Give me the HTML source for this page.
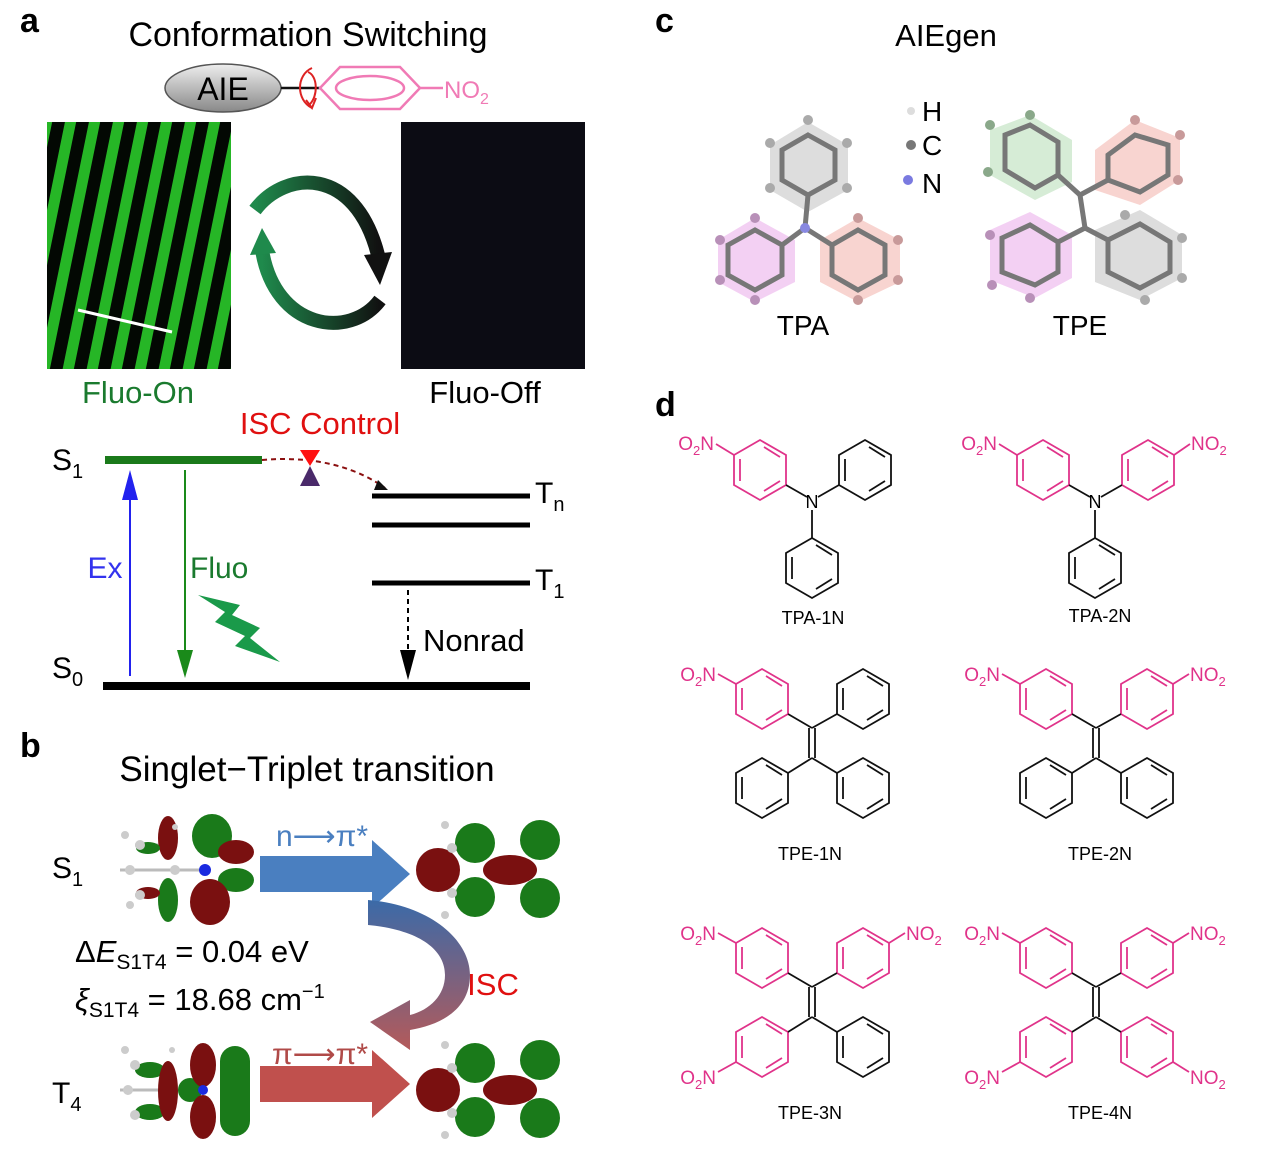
<!DOCTYPE html>
<html><head><meta charset="utf-8"><style>
html,body{margin:0;padding:0;background:#fff}
svg{display:block}
text{font-family:"Liberation Sans",sans-serif}
</style></head><body>
<svg width="1264" height="1164" viewBox="0 0 1264 1164" xmlns="http://www.w3.org/2000/svg">
<defs>
<g id="rp" fill="none" stroke="#e0338a" stroke-width="1.8">
<polygon points="0,-30 26,-15 26,15 0,30 -26,15 -26,-15"/>
<line x1="4" y1="-23" x2="20" y2="-13"/><line x1="20" y1="11" x2="4" y2="21"/><line x1="-20" y1="-11" x2="-20" y2="11"/>
</g>
<g id="rb" fill="none" stroke="#111" stroke-width="1.8">
<polygon points="0,-30 26,-15 26,15 0,30 -26,15 -26,-15"/>
<line x1="4" y1="-23" x2="20" y2="-13"/><line x1="20" y1="11" x2="4" y2="21"/><line x1="-20" y1="-11" x2="-20" y2="11"/>
</g>
<linearGradient id="aie" x1="0" y1="0" x2="0" y2="1"><stop offset="0" stop-color="#eee"/><stop offset="1" stop-color="#888"/></linearGradient>
<linearGradient id="g1" x1="0" y1="0" x2="1" y2="0"><stop offset="0" stop-color="#1f8a4c"/><stop offset="1" stop-color="#111"/></linearGradient>
<linearGradient id="g2" x1="1" y1="0" x2="0" y2="0"><stop offset="0" stop-color="#111"/><stop offset="1" stop-color="#1f8a4c"/></linearGradient>
<linearGradient id="isc" x1="0" y1="0" x2="0" y2="1"><stop offset="0" stop-color="#3b6aa8"/><stop offset="1" stop-color="#b45a5a"/></linearGradient>
<clipPath id="cp1"><rect x="47" y="122" width="184" height="247"/></clipPath>
</defs>

<!-- Panel a -->
<text x="20" y="32" font-size="34" font-weight="bold">a</text>
<text x="308" y="46" font-size="34" text-anchor="middle">Conformation Switching</text>
<ellipse cx="223" cy="88" rx="58" ry="24" fill="url(#aie)" stroke="#555" stroke-width="1.5"/>
<text x="223" y="100" font-size="32" text-anchor="middle">AIE</text>
<line x1="281" y1="88" x2="320" y2="88" stroke="#111" stroke-width="2.5"/>
<g fill="none" stroke="#f07ab5" stroke-width="2.5">
<polygon points="320,88 340,67 400,67 420,88 400,109 340,109"/>
<ellipse cx="370" cy="88" rx="34" ry="12"/>
<line x1="420" y1="88" x2="443" y2="88"/>
</g>
<text x="444" y="98" font-size="24" fill="#f07ab5">NO<tspan font-size="16" dy="6">2</tspan></text>
<path d="M312,68 C296,75 296,100 312,108" fill="none" stroke="#d22" stroke-width="2"/>
<path d="M308,72 C318,76 318,96 310,104" fill="none" stroke="#d22" stroke-width="2"/>
<path d="M306,100 L312,108 L316,98" fill="none" stroke="#d22" stroke-width="2"/>

<rect x="47" y="122" width="184" height="247" fill="#030803"/>
<g clip-path="url(#cp1)" stroke="#28c028" stroke-width="11" opacity="0.95">
<line x1="-30" y1="380" x2="25" y2="110"/><line x1="-6" y1="380" x2="49" y2="110"/>
<line x1="18" y1="380" x2="73" y2="110"/><line x1="42" y1="380" x2="97" y2="110"/>
<line x1="66" y1="380" x2="121" y2="110"/><line x1="90" y1="380" x2="145" y2="110"/>
<line x1="114" y1="380" x2="169" y2="110"/><line x1="138" y1="380" x2="193" y2="110"/>
<line x1="162" y1="380" x2="217" y2="110"/><line x1="186" y1="380" x2="241" y2="110"/>
<line x1="210" y1="380" x2="265" y2="110"/><line x1="234" y1="380" x2="289" y2="110"/>
</g>
<line x1="78" y1="310" x2="172" y2="332" stroke="#fff" stroke-width="3"/>
<rect x="401" y="122" width="184" height="247" fill="#0c0c14"/>

<path d="M255,210 C285,170 355,165 378,255" fill="none" stroke="url(#g1)" stroke-width="14"/>
<path d="M364,255 L380,285 L392,252 z" fill="#111"/>
<path d="M380,300 C350,340 275,330 262,250" fill="none" stroke="url(#g2)" stroke-width="14"/>
<path d="M250,255 L262,228 L276,253 z" fill="#1f8a4c"/>

<text x="138" y="403" font-size="31" fill="#1a7a2e" text-anchor="middle">Fluo-On</text>
<text x="485" y="403" font-size="31" text-anchor="middle">Fluo-Off</text>

<text x="52" y="470" font-size="30">S<tspan font-size="20" dy="8">1</tspan></text>
<line x1="105" y1="460" x2="262" y2="460" stroke="#1a7a1a" stroke-width="8"/>
<text x="320" y="434" font-size="31" fill="#e01010" text-anchor="middle">ISC Control</text>
<path d="M262,460 C320,455 360,470 385,488" fill="none" stroke="#8b1010" stroke-width="2" stroke-dasharray="5,4"/>
<path d="M378,480 L388,490 L374,490 z" fill="#111"/>
<path d="M300,450 L320,450 L310,466 z" fill="#ff1010"/>
<path d="M310,466 L300,486 L320,486 z" fill="#4a2a6a"/>
<line x1="372" y1="496" x2="530" y2="496" stroke="#000" stroke-width="5"/>
<line x1="372" y1="525" x2="530" y2="525" stroke="#000" stroke-width="5"/>
<line x1="372" y1="583" x2="530" y2="583" stroke="#000" stroke-width="5"/>
<text x="535" y="503" font-size="30">T<tspan font-size="20" dy="8">n</tspan></text>
<text x="535" y="590" font-size="30">T<tspan font-size="20" dy="8">1</tspan></text>
<line x1="103" y1="686" x2="530" y2="686" stroke="#000" stroke-width="8"/>
<text x="52" y="678" font-size="30">S<tspan font-size="20" dy="8">0</tspan></text>
<line x1="130" y1="676" x2="130" y2="490" stroke="#2222ee" stroke-width="2"/>
<path d="M122,500 L130,470 L138,500 z" fill="#2222ee"/>
<text x="105" y="578" font-size="30" fill="#3333ee" text-anchor="middle">Ex</text>
<line x1="185" y1="470" x2="185" y2="656" stroke="#1a8a1a" stroke-width="2"/>
<path d="M177,650 L185,678 L193,650 z" fill="#1a8a1a"/>
<text x="190" y="578" font-size="30" fill="#1a7a2e">Fluo</text>
<path d="M198,595 L240,605 L232,615 L260,628 L250,638 L280,662 L235,646 L245,636 L215,622 L225,612 z" fill="#1a9a4a"/>
<line x1="408" y1="590" x2="408" y2="656" stroke="#000" stroke-width="2" stroke-dasharray="5,4"/>
<path d="M400,650 L408,680 L416,650 z" fill="#000"/>
<text x="423" y="651" font-size="31">Nonrad</text>

<!-- Panel b -->
<text x="20" y="757" font-size="34" font-weight="bold">b</text>
<text x="307" y="781" font-size="35" text-anchor="middle">Singlet−Triplet transition</text>
<text x="52" y="878" font-size="30">S<tspan font-size="20" dy="8">1</tspan></text>
<text x="52" y="1103" font-size="30">T<tspan font-size="20" dy="8">4</tspan></text>
<g stroke="#bbb" stroke-width="3"><line x1="120" y1="870" x2="205" y2="870"/><line x1="135" y1="845" x2="175" y2="845"/><line x1="135" y1="895" x2="175" y2="895"/></g>
<ellipse cx="168" cy="838" rx="10" ry="22" fill="#7a1010"/>
<ellipse cx="168" cy="900" rx="10" ry="22" fill="#1a7a1a"/>
<ellipse cx="148" cy="848" rx="12" ry="6" fill="#1a7a1a"/>
<ellipse cx="148" cy="893" rx="12" ry="6" fill="#7a1010"/>
<ellipse cx="212" cy="836" rx="20" ry="22" fill="#1a7a1a"/>
<ellipse cx="236" cy="852" rx="18" ry="12" fill="#7a1010"/>
<ellipse cx="236" cy="880" rx="18" ry="12" fill="#1a7a1a"/>
<ellipse cx="210" cy="902" rx="20" ry="23" fill="#7a1010"/>
<circle cx="205" cy="870" r="6" fill="#1a2ae0"/>
<g fill="#ccc"><circle cx="130" cy="870" r="5"/><circle cx="140" cy="845" r="5"/><circle cx="140" cy="895" r="5"/><circle cx="175" cy="870" r="5"/><circle cx="125" cy="835" r="4"/><circle cx="130" cy="905" r="4"/><circle cx="175" cy="827" r="3"/></g>
<ellipse cx="438" cy="870" rx="22" ry="22" fill="#7a1010"/>
<ellipse cx="475" cy="843" rx="20" ry="20" fill="#1a7a1a"/>
<ellipse cx="475" cy="897" rx="20" ry="20" fill="#1a7a1a"/>
<ellipse cx="510" cy="870" rx="27" ry="15" fill="#7a1010"/>
<ellipse cx="540" cy="840" rx="20" ry="20" fill="#1a7a1a"/>
<ellipse cx="540" cy="898" rx="20" ry="20" fill="#1a7a1a"/>
<g fill="#ccc"><circle cx="452" cy="848" r="5"/><circle cx="452" cy="893" r="5"/><circle cx="445" cy="825" r="4"/><circle cx="445" cy="915" r="4"/></g>
<g stroke="#bbb" stroke-width="3"><line x1="120" y1="1090" x2="200" y2="1090"/></g>
<ellipse cx="150" cy="1070" rx="15" ry="8" fill="#1a7a1a"/>
<ellipse cx="150" cy="1112" rx="15" ry="8" fill="#1a7a1a"/>
<ellipse cx="168" cy="1091" rx="10" ry="30" fill="#7a1010"/>
<ellipse cx="190" cy="1090" rx="12" ry="12" fill="#1a7a1a"/>
<ellipse cx="203" cy="1065" rx="13" ry="22" fill="#7a1010"/>
<ellipse cx="203" cy="1117" rx="13" ry="22" fill="#7a1010"/>
<rect x="220" y="1046" width="30" height="90" rx="15" fill="#1a7a1a"/>
<circle cx="203" cy="1090" r="5" fill="#1a2ae0"/>
<g fill="#ccc"><circle cx="128" cy="1090" r="5"/><circle cx="135" cy="1065" r="5"/><circle cx="135" cy="1115" r="5"/><circle cx="125" cy="1050" r="4"/><circle cx="172" cy="1050" r="3"/></g>
<ellipse cx="438" cy="1090" rx="22" ry="22" fill="#7a1010"/>
<ellipse cx="475" cy="1063" rx="20" ry="20" fill="#1a7a1a"/>
<ellipse cx="475" cy="1117" rx="20" ry="20" fill="#1a7a1a"/>
<ellipse cx="510" cy="1090" rx="27" ry="15" fill="#7a1010"/>
<ellipse cx="540" cy="1060" rx="20" ry="20" fill="#1a7a1a"/>
<ellipse cx="540" cy="1118" rx="20" ry="20" fill="#1a7a1a"/>
<g fill="#ccc"><circle cx="452" cy="1068" r="5"/><circle cx="452" cy="1113" r="5"/><circle cx="445" cy="1045" r="4"/><circle cx="445" cy="1135" r="4"/></g>
<path d="M260,856 L372,856 L372,840 L410,874 L372,908 L372,892 L260,892 z" fill="#4a7fc0"/>
<text x="322" y="846" font-size="30" fill="#4a7fc0" text-anchor="middle">n⟶π*</text>
<path d="M260,1066 L372,1066 L372,1050 L410,1084 L372,1118 L372,1102 L260,1102 z" fill="#c0504d"/>
<text x="320" y="1064" font-size="30" fill="#b04a48" text-anchor="middle">π⟶π*</text>
<path d="M368,900 C430,905 470,940 470,975 C470,1010 440,1025 410,1030 L410,1050 L370,1022 L410,1000 L410,1015 C430,1010 445,995 445,975 C445,950 420,930 368,925 z" fill="url(#isc)"/>
<text x="493" y="995" font-size="31" fill="#e01010" text-anchor="middle">ISC</text>
<text x="75" y="962" font-size="31">Δ<tspan font-style="italic">E</tspan><tspan font-size="21" dy="7">S1T4</tspan><tspan dy="-7"> = 0.04 eV</tspan></text>
<text x="75" y="1010" font-size="31"><tspan font-style="italic">ξ</tspan><tspan font-size="21" dy="7">S1T4</tspan><tspan dy="-7"> = 18.68 cm</tspan><tspan font-size="20" dy="-12">−1</tspan></text>

<!-- Panel c -->
<text x="655" y="32" font-size="34" font-weight="bold">c</text>
<text x="946" y="46" font-size="31" text-anchor="middle">AIEgen</text>
<circle cx="911" cy="111" r="4" fill="#ddd"/><text x="922" y="121" font-size="28">H</text>
<circle cx="911" cy="145" r="5" fill="#777"/><text x="922" y="155" font-size="28">C</text>
<circle cx="908" cy="180" r="5" fill="#7a7ae0"/><text x="922" y="193" font-size="28">N</text>
<g>
<polygon points="808,122 848,145 848,190 808,212 770,190 770,145" fill="#ddd"/>
<polygon points="718,240 755,218 795,240 795,282 755,302 718,282" fill="#f3d0f3"/>
<polygon points="820,240 858,218 900,240 900,282 858,302 820,282" fill="#f8d4d0"/>
<g fill="none" stroke="#777" stroke-width="5">
<polygon points="808,135 835,150 835,180 808,195 782,180 782,150"/>
<polygon points="728,245 755,230 782,245 782,275 755,290 728,275"/>
<polygon points="832,245 858,230 885,245 885,275 858,290 832,275"/>
<line x1="808" y1="195" x2="805" y2="228"/><line x1="805" y1="228" x2="782" y2="245"/><line x1="805" y1="228" x2="832" y2="245"/>
</g>
<circle cx="805" cy="228" r="5" fill="#8888e0"/>
<g fill="#aaa"><circle cx="808" cy="120" r="5"/><circle cx="847" cy="143" r="5"/><circle cx="770" cy="143" r="5"/><circle cx="847" cy="188" r="5"/><circle cx="770" cy="188" r="5"/></g>
<g fill="#b890b8"><circle cx="720" cy="240" r="5"/><circle cx="720" cy="280" r="5"/><circle cx="755" cy="300" r="5"/><circle cx="755" cy="218" r="5"/></g>
<g fill="#c89a9a"><circle cx="898" cy="240" r="5"/><circle cx="898" cy="280" r="5"/><circle cx="858" cy="300" r="5"/><circle cx="858" cy="218" r="5"/></g>
</g>
<text x="803" y="335" font-size="28" text-anchor="middle">TPA</text>
<g>
<polygon points="990,130 1030,115 1072,140 1072,182 1035,200 990,175" fill="#d6ecd6"/>
<polygon points="1095,150 1135,120 1180,138 1180,180 1140,205 1095,190" fill="#f8d4d0"/>
<polygon points="990,230 1030,212 1072,235 1072,278 1035,298 990,280" fill="#f3d0f3"/>
<polygon points="1095,230 1140,210 1182,235 1182,278 1140,300 1095,282" fill="#ddd"/>
<g fill="none" stroke="#777" stroke-width="5">
<polygon points="1005,135 1030,125 1058,142 1058,175 1035,188 1005,170"/>
<polygon points="1108,155 1135,135 1168,145 1168,175 1140,192 1108,180"/>
<polygon points="1002,238 1030,225 1058,242 1058,272 1035,285 1002,272"/>
<polygon points="1108,240 1140,224 1170,242 1170,272 1140,288 1108,272"/>
<line x1="1058" y1="175" x2="1080" y2="195"/><line x1="1108" y1="180" x2="1080" y2="195"/><line x1="1080" y1="195" x2="1085" y2="228"/><line x1="1085" y1="228" x2="1058" y2="242"/><line x1="1085" y1="228" x2="1108" y2="240"/>
</g>
<g fill="#8aa88a"><circle cx="990" cy="125" r="5"/><circle cx="988" cy="172" r="5"/><circle cx="1030" cy="115" r="5"/></g>
<g fill="#c89a9a"><circle cx="1135" cy="120" r="5"/><circle cx="1180" cy="135" r="5"/><circle cx="1178" cy="180" r="5"/></g>
<g fill="#b890b8"><circle cx="990" cy="235" r="5"/><circle cx="992" cy="285" r="5"/><circle cx="1030" cy="298" r="5"/></g>
<g fill="#aaa"><circle cx="1125" cy="215" r="5"/><circle cx="1182" cy="238" r="5"/><circle cx="1182" cy="278" r="5"/><circle cx="1145" cy="300" r="5"/></g>
</g>
<text x="1080" y="335" font-size="28" text-anchor="middle">TPE</text>

<!-- Panel d -->
<text x="655" y="416" font-size="34" font-weight="bold">d</text>
<g transform="translate(812,500)" stroke-width="1.8">
<use href="#rp" x="-52" y="-30"/><use href="#rb" x="53" y="-30"/><use href="#rb" x="0" y="68"/>
<line x1="-26" y1="-15" x2="-5" y2="-3" stroke="#111"/><line x1="27" y1="-15" x2="6" y2="-3" stroke="#111"/><line x1="0" y1="10" x2="0" y2="38" stroke="#111"/>
<line x1="-78" y1="-45" x2="-96" y2="-56" stroke="#e0338a"/>
<text x="0" y="8" font-size="18" text-anchor="middle">N</text>
<text x="-98" y="-50" font-size="19" fill="#e0338a" text-anchor="end">O<tspan font-size="13" dy="5">2</tspan><tspan dy="-5">N</tspan></text>
</g>
<text x="813" y="624" font-size="18" text-anchor="middle">TPA-1N</text>
<g transform="translate(1095,500)" stroke-width="1.8">
<use href="#rp" x="-52" y="-30"/><use href="#rp" x="53" y="-30"/><use href="#rb" x="0" y="68"/>
<line x1="-26" y1="-15" x2="-5" y2="-3" stroke="#111"/><line x1="27" y1="-15" x2="6" y2="-3" stroke="#111"/><line x1="0" y1="10" x2="0" y2="38" stroke="#111"/>
<line x1="-78" y1="-45" x2="-96" y2="-56" stroke="#e0338a"/><line x1="79" y1="-45" x2="95" y2="-56" stroke="#e0338a"/>
<text x="0" y="8" font-size="18" text-anchor="middle">N</text>
<text x="-98" y="-50" font-size="19" fill="#e0338a" text-anchor="end">O<tspan font-size="13" dy="5">2</tspan><tspan dy="-5">N</tspan></text>
<text x="96" y="-50" font-size="19" fill="#e0338a">NO<tspan font-size="13" dy="5">2</tspan></text>
</g>
<text x="1100" y="622" font-size="18" text-anchor="middle">TPA-2N</text>
<g transform="translate(812,728)" stroke-width="1.8" stroke="#111">
<use href="#rp" x="-50" y="-29"/><use href="#rb" x="51" y="-29"/><use href="#rb" x="-50" y="60"/><use href="#rb" x="51" y="60"/>
<line x1="0" y1="0" x2="-24" y2="-14"/><line x1="0" y1="0" x2="25" y2="-14"/><line x1="0" y1="30" x2="-24" y2="45"/><line x1="0" y1="30" x2="25" y2="45"/>
<line x1="-3" y1="0" x2="-3" y2="30"/><line x1="3" y1="0" x2="3" y2="30"/>
<line x1="-76" y1="-44" x2="-94" y2="-54" stroke="#e0338a"/>
<text x="-96" y="-47" font-size="19" fill="#e0338a" stroke="none" text-anchor="end">O<tspan font-size="13" dy="5">2</tspan><tspan dy="-5">N</tspan></text>
</g>
<text x="810" y="860" font-size="18" text-anchor="middle">TPE-1N</text>
<g transform="translate(1096,728)" stroke-width="1.8" stroke="#111">
<use href="#rp" x="-50" y="-29"/><use href="#rp" x="51" y="-29"/><use href="#rb" x="-50" y="60"/><use href="#rb" x="51" y="60"/>
<line x1="0" y1="0" x2="-24" y2="-14"/><line x1="0" y1="0" x2="25" y2="-14"/><line x1="0" y1="30" x2="-24" y2="45"/><line x1="0" y1="30" x2="25" y2="45"/>
<line x1="-3" y1="0" x2="-3" y2="30"/><line x1="3" y1="0" x2="3" y2="30"/>
<line x1="-76" y1="-44" x2="-94" y2="-54" stroke="#e0338a"/><line x1="77" y1="-44" x2="93" y2="-54" stroke="#e0338a"/>
<text x="-96" y="-47" font-size="19" fill="#e0338a" stroke="none" text-anchor="end">O<tspan font-size="13" dy="5">2</tspan><tspan dy="-5">N</tspan></text>
<text x="94" y="-47" font-size="19" fill="#e0338a" stroke="none">NO<tspan font-size="13" dy="5">2</tspan></text>
</g>
<text x="1100" y="860" font-size="18" text-anchor="middle">TPE-2N</text>
<g transform="translate(812,987)" stroke-width="1.8" stroke="#111">
<use href="#rp" x="-50" y="-29"/><use href="#rp" x="51" y="-29"/><use href="#rp" x="-50" y="60"/><use href="#rb" x="51" y="60"/>
<line x1="0" y1="0" x2="-24" y2="-14"/><line x1="0" y1="0" x2="25" y2="-14"/><line x1="0" y1="30" x2="-24" y2="45"/><line x1="0" y1="30" x2="25" y2="45"/>
<line x1="-3" y1="0" x2="-3" y2="30"/><line x1="3" y1="0" x2="3" y2="30"/>
<line x1="-76" y1="-44" x2="-94" y2="-54" stroke="#e0338a"/><line x1="77" y1="-44" x2="93" y2="-54" stroke="#e0338a"/>
<line x1="-76" y1="75" x2="-94" y2="85" stroke="#e0338a"/>
<text x="-96" y="-47" font-size="19" fill="#e0338a" stroke="none" text-anchor="end">O<tspan font-size="13" dy="5">2</tspan><tspan dy="-5">N</tspan></text>
<text x="94" y="-47" font-size="19" fill="#e0338a" stroke="none">NO<tspan font-size="13" dy="5">2</tspan></text>
<text x="-96" y="97" font-size="19" fill="#e0338a" stroke="none" text-anchor="end">O<tspan font-size="13" dy="5">2</tspan><tspan dy="-5">N</tspan></text>
</g>
<text x="810" y="1119" font-size="18" text-anchor="middle">TPE-3N</text>
<g transform="translate(1096,987)" stroke-width="1.8" stroke="#111">
<use href="#rp" x="-50" y="-29"/><use href="#rp" x="51" y="-29"/><use href="#rp" x="-50" y="60"/><use href="#rp" x="51" y="60"/>
<line x1="0" y1="0" x2="-24" y2="-14"/><line x1="0" y1="0" x2="25" y2="-14"/><line x1="0" y1="30" x2="-24" y2="45"/><line x1="0" y1="30" x2="25" y2="45"/>
<line x1="-3" y1="0" x2="-3" y2="30"/><line x1="3" y1="0" x2="3" y2="30"/>
<line x1="-76" y1="-44" x2="-94" y2="-54" stroke="#e0338a"/><line x1="77" y1="-44" x2="93" y2="-54" stroke="#e0338a"/>
<line x1="-76" y1="75" x2="-94" y2="85" stroke="#e0338a"/><line x1="77" y1="75" x2="93" y2="85" stroke="#e0338a"/>
<text x="-96" y="-47" font-size="19" fill="#e0338a" stroke="none" text-anchor="end">O<tspan font-size="13" dy="5">2</tspan><tspan dy="-5">N</tspan></text>
<text x="94" y="-47" font-size="19" fill="#e0338a" stroke="none">NO<tspan font-size="13" dy="5">2</tspan></text>
<text x="-96" y="97" font-size="19" fill="#e0338a" stroke="none" text-anchor="end">O<tspan font-size="13" dy="5">2</tspan><tspan dy="-5">N</tspan></text>
<text x="94" y="97" font-size="19" fill="#e0338a" stroke="none">NO<tspan font-size="13" dy="5">2</tspan></text>
</g>
<text x="1100" y="1119" font-size="18" text-anchor="middle">TPE-4N</text>
</svg>
</body></html>
